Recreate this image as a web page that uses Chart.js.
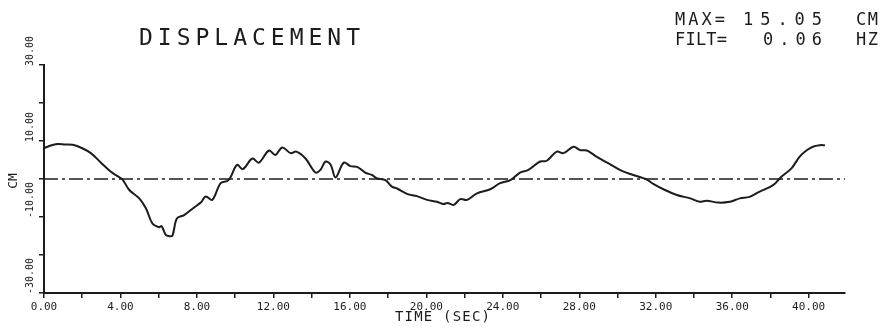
<!DOCTYPE html>
<html>
<head>
<meta charset="utf-8">
<script src="https://cdn.jsdelivr.net/npm/chart.js@4"></script>
<style>
  html, body { margin: 0; padding: 0; background: #fff; }
  canvas { display: block; }
</style>
</head>
<body>
<canvas id="c" width="889" height="334"></canvas>
<script>
// Displacement time history (cm) sampled along the record (s)
const timeSec = [
  0.0, 0.35, 0.7, 1.1, 1.5, 2.0, 2.45, 2.98, 3.5, 3.8,
  4.1, 4.46, 4.98, 5.33, 5.67, 6.02, 6.15, 6.37, 6.55, 6.72,
  6.95, 7.33, 7.85, 8.2, 8.46, 8.8, 9.24, 9.6, 9.75, 10.1,
  10.4, 10.9, 11.24, 11.77, 12.1, 12.46, 12.9, 13.2, 13.68, 14.2,
  14.46, 14.73, 15.0, 15.25, 15.68, 16.03, 16.38, 16.8, 17.16, 17.4,
  17.86, 18.2, 18.47, 18.99, 19.5, 20.04, 20.56, 20.9, 21.1, 21.43,
  21.78, 22.13, 22.65, 23.34, 23.86, 24.4, 24.9, 25.34, 25.95, 26.3,
  26.82, 27.17, 27.7, 28.04, 28.4, 28.9, 29.6, 30.2, 30.82, 31.2,
  31.52, 31.87, 32.48, 33.1, 33.8, 34.3, 34.66, 35.26, 35.87, 36.4,
  36.9, 37.44, 38.14, 38.57, 39.1, 39.53, 39.88, 40.22, 40.57, 40.85
];
const dispCm = [
  8.1, 8.8, 9.2, 9.1, 9.0, 8.1, 6.8, 4.3, 1.9, 0.9,
  -0.1, -2.9, -5.1, -7.7, -11.7, -12.7, -12.4, -14.7, -15.05, -14.9,
  -10.4, -9.5, -7.5, -6.2, -4.6, -5.5, -1.1, -0.5, 0.4, 3.7,
  2.6, 5.4, 4.3, 7.5, 6.3, 8.3, 6.8, 7.2, 5.4, 1.7,
  2.4, 4.6, 3.7, 0.4, 4.3, 3.4, 3.2, 1.7, 1.05, 0.2,
  -0.3, -2.0, -2.5, -3.9, -4.5, -5.5, -6.0, -6.6, -6.3, -6.8,
  -5.3, -5.5, -3.8, -2.7, -1.1, -0.3, 1.7, 2.4, 4.6, 4.8,
  7.2, 6.8, 8.5, 7.6, 7.5, 5.9, 3.9, 2.2, 1.05, 0.45,
  -0.1, -1.3, -2.9, -4.2, -5.1, -6.0, -5.7, -6.2, -6.0, -5.1,
  -4.7, -3.3, -1.6, 0.6, 2.8, 5.9, 7.5, 8.5, 8.9, 8.9
];

// Axis ranges and labelled ticks
const timeRange = [0, 41.9];
const dispRange = [-30, 30];
const xTickStep = 2;
const xTickLast = 40;
const xLabelStep = 4;
const yTickStep = 10;
const yTickValues = [-30, -10, 10, 30];
const yTickLabels = ['-30.00', '-10.00', '10.00', '30.00'];

const INK = '#1c1c1c';
const MONO = '"DejaVu Sans Mono", "Liberation Mono", monospace';

// Draws a string with its characters spread evenly over a given width
function spaced(ctx, text, x, y, width, font) {
  ctx.font = font;
  ctx.textAlign = 'left';
  ctx.textBaseline = 'alphabetic';
  const chars = [...text];
  const cw = ctx.measureText('M').width;
  const step = chars.length > 1 ? (width - cw) / (chars.length - 1) : 0;
  chars.forEach((ch, i) => ctx.fillText(ch, x + i * step, y));
}

const annotations = {
  id: 'annotations',
  afterDraw(chart) {
    const { ctx, scales: { y } } = chart;
    ctx.save();
    ctx.fillStyle = INK;

    spaced(ctx, 'DISPLACEMENT', 139, 45, 221, `23px ${MONO}`);

    spaced(ctx, 'MAX=', 675, 25, 50, `17px ${MONO}`);
    spaced(ctx, '15.05', 743, 25, 79, `17px ${MONO}`);
    spaced(ctx, 'CM', 856, 25, 22, `17px ${MONO}`);
    spaced(ctx, 'FILT=', 675, 45, 52, `17px ${MONO}`);
    spaced(ctx, '0.06', 763, 45, 59, `17px ${MONO}`);
    spaced(ctx, 'HZ', 856, 45, 22, `17px ${MONO}`);

    spaced(ctx, 'TIME (SEC)', 395, 321, 95, `14px ${MONO}`);

    // rotated y labels, reading upward from each tick
    ctx.font = `10px ${MONO}`;
    ctx.textAlign = 'left';
    ctx.textBaseline = 'middle';
    yTickValues.forEach((v, i) => {
      const py = y.getPixelForValue(v);
      ctx.save();
      ctx.translate(30, py + 1);
      ctx.rotate(-Math.PI / 2);
      ctx.fillText(yTickLabels[i], 0, 0);
      ctx.restore();
    });

    ctx.save();
    ctx.translate(14, 181);
    ctx.rotate(-Math.PI / 2);
    ctx.font = `13px ${MONO}`;
    ctx.textAlign = 'center';
    ctx.textBaseline = 'middle';
    ctx.fillText('CM', 0, 0);
    ctx.restore();

    ctx.restore();
  }
};

const axisGrid = {
  drawOnChartArea: false,
  drawTicks: true,
  tickLength: 5,
  color: INK,
  lineWidth: 1.5
};
const axisBorder = { display: true, color: INK, width: 2 };

new Chart(document.getElementById('c'), {
  type: 'line',
  data: {
    datasets: [
      {
        data: timeSec.map((t, i) => ({ x: t, y: dispCm[i] })),
        borderColor: INK,
        borderWidth: 2,
        pointRadius: 0,
        tension: 0.35,
        fill: false
      },
      {
        data: [{ x: timeRange[0], y: 0 }, { x: timeRange[1], y: 0 }],
        borderColor: INK,
        borderWidth: 1.5,
        borderDash: [14, 4, 3, 4],
        pointRadius: 0,
        fill: false
      }
    ]
  },
  options: {
    responsive: false,
    animation: false,
    events: [],
    layout: { padding: { top: 65, right: 44, left: 0, bottom: 0 } },
    plugins: { legend: { display: false }, tooltip: { enabled: false } },
    scales: {
      x: {
        type: 'linear',
        min: timeRange[0],
        max: timeRange[1],
        afterBuildTicks(scale) {
          const ticks = [];
          for (let v = timeRange[0]; v <= xTickLast; v += xTickStep) ticks.push({ value: v });
          scale.ticks = ticks;
        },
        afterFit(scale) { scale.height = 41; },
        ticks: {
          autoSkip: false,
          maxRotation: 0,
          padding: 3,
          color: INK,
          font: { family: MONO, size: 11 },
          callback: v => (v % xLabelStep === 0 ? v.toFixed(2) : '')
        },
        grid: axisGrid,
        border: axisBorder
      },
      y: {
        min: dispRange[0],
        max: dispRange[1],
        afterFit(scale) { scale.width = 44; },
        ticks: { stepSize: yTickStep, display: false },
        grid: axisGrid,
        border: axisBorder
      }
    }
  },
  plugins: [annotations]
});
</script>
</body>
</html>
